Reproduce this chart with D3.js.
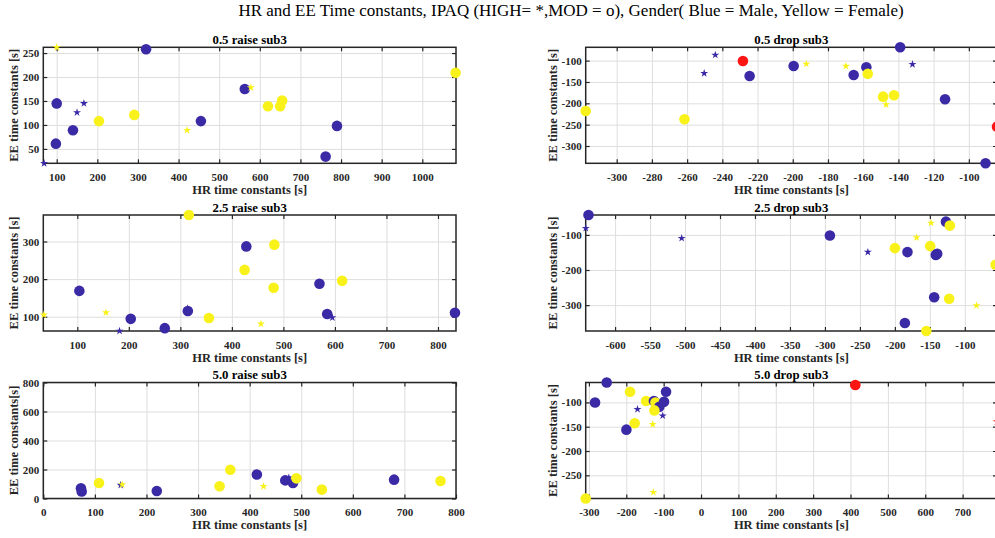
<!DOCTYPE html>
<html>
<head>
<meta charset="utf-8">
<script src="https://cdn.jsdelivr.net/npm/d3@7"></script>
<style>
	body { margin: 0; background: #fff; }
	svg { display: block; font-family: "Liberation Serif", "Times New Roman", serif; }
	.grid line { stroke: #dedede; stroke-width: 1; }
	.axis line { stroke: #262626; stroke-width: 1.2; }
	.axis text { font-family: "Liberation Serif", "Times New Roman", serif; font-size: 11px; font-weight: bold; fill: #262626; }
	.box { fill: none; stroke: #262626; stroke-width: 1.5; }
	.axis-label { font-size: 12.5px; font-weight: bold; fill: #262626; }
	.panel-title { font-size: 12.8px; font-weight: bold; fill: #000; }
	.fig-title { font-size: 17px; fill: #000; }
</style>
</head>
<body>
<div id="chart"></div>
<script>
// marker codes: first letter colour (b male, y female, r other), second letter shape (o MOD, * HIGH)
const figTitle = 'HR and EE Time constants, IPAQ (HIGH= *,MOD = o), Gender( Blue = Male, Yellow = Female)';
const xLabel = 'HR time constants [s]';

// 0.5 raise
const raise05Hr   = [100, 320, 100, 167, 150, 140, 98, 69, 204, 291, 421, 455, 563, 578, 620, 650, 655, 762, 790, 1082];
const raise05Ee   = [262, 258, 145, 145, 126, 89, 61, 20, 108, 121, 89, 108, 175, 178, 139, 139, 151, 34, 98, 209];
const raise05Mark = ['y*','bo','bo','b*','b*','bo','bo','b*','yo','yo','y*','bo','bo','y*','yo','yo','yo','bo','bo','yo'];
const raise05XLim = [67, 1083];
const raise05YLim = [20, 262];
const raise05XTicks = [100, 200, 300, 400, 500, 600, 700, 800, 900, 1000];
const raise05YTicks = [50, 100, 150, 200, 250];

// 0.5 drop
const drop05Hr   = [-317.6, -261.5, -250.3, -244, -228.3, -224.5, -199.5, -192.3, -169.8, -165.4, -158.2, -157.4, -148.7, -147, -142.5, -139, -132, -113.5, -90.5, -84];
const drop05Ee   = [-218, -237.5, -129.7, -86.7, -100.8, -136, -112.5, -107.8, -113, -133.6, -115.6, -131, -184.4, -203, -181, -68.8, -108.6, -190.6, -340.5, -254.7];
const drop05Mark = ['yo','yo','b*','b*','ro','bo','bo','y*','y*','bo','bo','yo','yo','y*','yo','bo','b*','bo','bo','ro'];
const drop05XLim = [-317.6, -84];
const drop05YLim = [-340.5, -68.8];
const drop05XTicks = [-300, -280, -260, -240, -220, -200, -180, -160, -140, -120, -100];
const drop05YTicks = [-300, -250, -200, -150, -100];

// 2.5 raise
const raise25Hr   = [35, 104, 155.7, 182, 203.7, 269.8, 314, 314.5, 316.5, 355.4, 424.7, 428, 456.5, 481, 482.4, 570, 585, 595, 614, 833];
const raise25Ee   = [104.8, 168.7, 110.8, 62, 94.3, 69.6, 122, 115.4, 370.5, 96.7, 224.5, 287, 81, 177, 291.6, 187.5, 107.3, 97.6, 195.4, 110.6];
const raise25Mark = ['y*','bo','y*','b*','bo','bo','b*','bo','yo','yo','yo','bo','y*','yo','yo','bo','bo','b*','yo','bo'];
const raise25XLim = [34, 835];
const raise25YLim = [62, 370.5];
const raise25XTicks = [100, 200, 300, 400, 500, 600, 700, 800];
const raise25YTicks = [100, 200, 300];

// 2.5 drop
const drop25Hr   = [-638, -641.9, -504.8, -292.9, -238.6, -200, -182, -169, -149.5, -148.3, -127, -121.4, -141.5, -139.5, -143.8, -122.4, -185.7, -155, -83.3, -56];
const drop25Ee   = [-43.4, -81, -109.4, -101.9, -149, -137.7, -149, -107.5, -132, -66, -62.3, -73.6, -157, -154, -277.4, -282, -351, -373.6, -301, -185];
const drop25Mark = ['bo','b*','b*','bo','b*','yo','bo','y*','yo','y*','bo','yo','bo','bo','bo','yo','bo','yo','y*','yo'];
const drop25XLim = [-642, -54];
const drop25YLim = [-373.6, -43.4];
const drop25XTicks = [-600, -550, -500, -450, -400, -350, -300, -250, -200, -150, -100];
const drop25YTicks = [-300, -200, -100];

// 5.0 raise
const raise50Hr   = [73, 74.4, 108, 150, 152.8, 220, 341.7, 362.5, 414, 427, 469, 476, 484, 490.6, 540, 680, 770];
const raise50Ee   = [71, 48, 107, 92, 95.7, 52, 84, 198, 166, 84, 125, 143.6, 107, 139, 61.5, 130, 121];
const raise50Mark = ['bo','bo','yo','b*','y*','bo','yo','yo','bo','y*','bo','b*','bo','yo','yo','bo','yo'];
const raise50XLim = [0, 800];
const raise50YLim = [0, 800];
const raise50XTicks = [0, 100, 200, 300, 400, 500, 600, 700, 800];
const raise50YTicks = [0, 200, 400, 600, 800];

// 5.0 drop
const drop50Hr   = [-252.4, -283.6, -190, -147, -126, -122, -111.5, -99, -93.6, -124.8, -170, -102.5, -177.5, -129.3, -199.7, -127.5, -308.6, 413, 792];
const drop50Ee   = [-59, -100, -78, -97, -97, -100, -109, -98.8, -78, -116.4, -114, -127.3, -143, -145, -156, -284.8, -297.7, -64, -139.5];
const drop50Mark = ['bo','bo','yo','yo','bo','yo','bo','bo','bo','yo','b*','b*','yo','y*','bo','y*','yo','ro','r*'];
const drop50XLim = [-308.6, 792];
const drop50YLim = [-297.7, -59];
const drop50XTicks = [-300, -200, -100, 0, 100, 200, 300, 400, 500, 600, 700];
const drop50YTicks = [-250, -200, -150, -100];

let panels = [
	{ title: '0.5 raise sub3', yLabel: 'EE time constants [s]', hr: raise05Hr, ee: raise05Ee, mark: raise05Mark, xLim: raise05XLim, yLim: raise05YLim, xTicks: raise05XTicks, yTicks: raise05YTicks },
	{ title: '0.5 drop sub3',  yLabel: 'EE time constants [s]', hr: drop05Hr,  ee: drop05Ee,  mark: drop05Mark,  xLim: drop05XLim,  yLim: drop05YLim,  xTicks: drop05XTicks,  yTicks: drop05YTicks },
	{ title: '2.5 raise sub3', yLabel: 'EE time constants [s]', hr: raise25Hr, ee: raise25Ee, mark: raise25Mark, xLim: raise25XLim, yLim: raise25YLim, xTicks: raise25XTicks, yTicks: raise25YTicks },
	{ title: '2.5 drop sub3',  yLabel: 'EE time constants [s]', hr: drop25Hr,  ee: drop25Ee,  mark: drop25Mark,  xLim: drop25XLim,  yLim: drop25YLim,  xTicks: drop25XTicks,  yTicks: drop25YTicks },
	{ title: '5.0 raise sub3', yLabel: 'EE time constants[s]',  hr: raise50Hr, ee: raise50Ee, mark: raise50Mark, xLim: raise50XLim, yLim: raise50YLim, xTicks: raise50XTicks, yTicks: raise50YTicks },
	{ title: '5.0 drop sub3',  yLabel: 'EE time constants [s]', hr: drop50Hr,  ee: drop50Ee,  mark: drop50Mark,  xLim: drop50XLim,  yLim: drop50YLim,  xTicks: drop50XTicks,  yTicks: drop50YTicks }
];

let palette = { b: '#3a2aa6', y: '#f8f21a', r: '#ff1414' };

let svg = d3.select('#chart').append('svg')
	.attr('width', 995)
	.attr('height', 538);

svg.append('text')
	.attr('class', 'fig-title')
	.attr('x', 571)
	.attr('y', 16)
	.attr('text-anchor', 'middle')
	.text(figTitle);

let colLeft		= [43.3, 585.7];
let colWidth	= [412.7, 411.3];
let rowTop		= [47.3, 215, 382.5];
let boxHeight	= 116;

panels.forEach((p, i) => createPanel(p, colLeft[i % 2], rowTop[Math.floor(i / 2)], colWidth[i % 2], boxHeight));

function createPanel(p, left, top, width, height) {
	let x = d3.scaleLinear().domain(p.xLim).range([0, width]);
	let y = d3.scaleLinear().domain(p.yLim).range([height, 0]);

	let g = svg.append('g')
		.attr('transform', 'translate(' + left + ',' + top + ')');

	// grid
	g.append('g')
		.attr('class', 'grid')
		.attr('transform', 'translate(0,' + height + ')')
		.call(d3.axisBottom(x).tickValues(p.xTicks).tickSize(-height).tickFormat(''));
	g.append('g')
		.attr('class', 'grid')
		.call(d3.axisLeft(y).tickValues(p.yTicks).tickSize(-width).tickFormat(''));

	// ticks pointing inward on all four sides
	g.append('g')
		.attr('class', 'axis')
		.attr('transform', 'translate(0,' + height + ')')
		.call(d3.axisBottom(x).tickValues(p.xTicks).tickSize(-4).tickPadding(10).tickFormat((d) => String(d)));
	g.append('g')
		.attr('class', 'axis')
		.call(d3.axisTop(x).tickValues(p.xTicks).tickSize(-4).tickFormat(''));
	let yAxis = g.append('g')
		.attr('class', 'axis')
		.call(d3.axisLeft(y).tickValues(p.yTicks).tickSize(-4).tickPadding(4).tickFormat((d) => String(d)));
	g.append('g')
		.attr('class', 'axis')
		.attr('transform', 'translate(' + width + ',0)')
		.call(d3.axisRight(y).tickValues(p.yTicks).tickSize(-4).tickFormat(''));

	g.selectAll('.domain').remove();

	g.append('rect')
		.attr('class', 'box')
		.attr('width', width)
		.attr('height', height);

	g.append('text')
		.attr('class', 'panel-title')
		.attr('x', width / 2)
		.attr('y', -3.5)
		.attr('text-anchor', 'middle')
		.text(p.title);

	g.append('text')
		.attr('class', 'axis-label')
		.attr('x', width / 2)
		.attr('y', height + 30.5)
		.attr('text-anchor', 'middle')
		.text(xLabel);

	let tickWidth = d3.max(yAxis.selectAll('text').nodes(), (n) => n.getComputedTextLength());
	g.append('text')
		.attr('class', 'axis-label')
		.attr('transform', 'translate(' + (-(4 + tickWidth + 5)) + ',' + (height / 2) + ') rotate(-90)')
		.attr('text-anchor', 'middle')
		.text(p.yLabel);

	let circle	= d3.symbol().type(d3.symbolCircle).size(88);
	let star	= d3.symbol().type(d3.symbolStar).size(20);

	g.append('g')
		.attr('class', 'marks')
		.selectAll('path')
		.data(d3.range(p.hr.length))
		.enter().append('path')
			.attr('transform', (i) => 'translate(' + x(p.hr[i]) + ',' + y(p.ee[i]) + ')')
			.attr('d', (i) => (p.mark[i][1] === '*' ? star() : circle()))
			.style('fill', (i) => palette[p.mark[i][0]]);
}
</script>
</body>
</html>
